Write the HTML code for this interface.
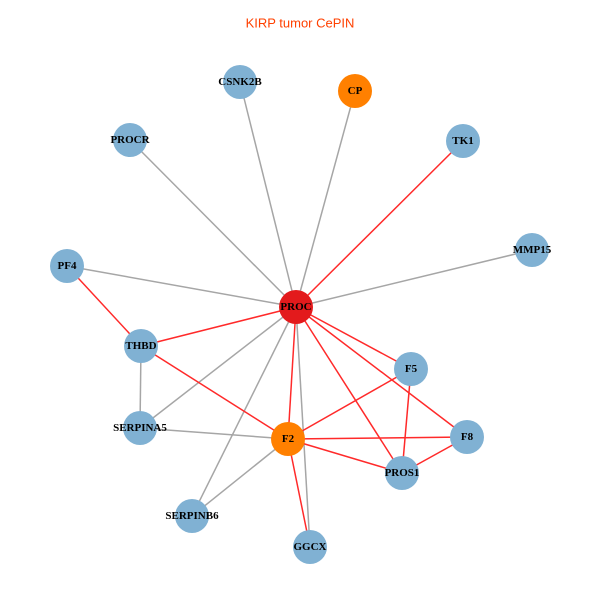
<!DOCTYPE html>
<html><head><meta charset="utf-8"><style>
html,body{margin:0;padding:0;background:#fff;}
svg{display:block}
text{font-family:"Liberation Serif",serif;font-weight:bold;font-size:11px;text-anchor:middle;dominant-baseline:central;fill:#000}
</style></head><body>
<svg width="600" height="600" viewBox="0 0 600 600" xmlns="http://www.w3.org/2000/svg">
<rect width="600" height="600" fill="#fff"/>
<text x="300" y="23" style="font-family:'Liberation Sans',sans-serif;font-weight:normal;font-size:13px;fill:#ff4000">KIRP tumor CePIN</text>
<g stroke="#a6a6a6" stroke-width="1.5">
<line x1="296" y1="307" x2="240" y2="82"/>
<line x1="296" y1="307" x2="355" y2="91"/>
<line x1="296" y1="307" x2="130" y2="140"/>
<line x1="296" y1="307" x2="532" y2="250"/>
<line x1="296" y1="307" x2="67" y2="266"/>
<line x1="296" y1="307" x2="140" y2="428"/>
<line x1="296" y1="307" x2="192" y2="516"/>
<line x1="296" y1="307" x2="310" y2="547"/>
<line x1="141" y1="346" x2="140" y2="428"/>
<line x1="140" y1="428" x2="288" y2="439"/>
<line x1="288" y1="439" x2="192" y2="516"/>
</g>
<g stroke="#ff2a2a" stroke-width="1.5">
<line x1="296" y1="307" x2="463" y2="141"/>
<line x1="67" y1="266" x2="141" y2="346"/>
<line x1="296" y1="307" x2="141" y2="346"/>
<line x1="141" y1="346" x2="288" y2="439"/>
<line x1="296" y1="307" x2="288" y2="439"/>
<line x1="296" y1="307" x2="411" y2="369"/>
<line x1="296" y1="307" x2="467" y2="437"/>
<line x1="296" y1="307" x2="402" y2="473"/>
<line x1="288" y1="439" x2="411" y2="369"/>
<line x1="288" y1="439" x2="467" y2="437"/>
<line x1="288" y1="439" x2="402" y2="473"/>
<line x1="288" y1="439" x2="310" y2="547"/>
<line x1="411" y1="369" x2="402" y2="473"/>
<line x1="402" y1="473" x2="467" y2="437"/>
</g>
<g fill="#80b1d3">
<circle cx="240" cy="82" r="17"/>
<circle cx="130" cy="140" r="17"/>
<circle cx="463" cy="141" r="17"/>
<circle cx="532" cy="250" r="17"/>
<circle cx="67" cy="266" r="17"/>
<circle cx="141" cy="346" r="17"/>
<circle cx="411" cy="369" r="17"/>
<circle cx="140" cy="428" r="17"/>
<circle cx="467" cy="437" r="17"/>
<circle cx="402" cy="473" r="17"/>
<circle cx="192" cy="516" r="17"/>
<circle cx="310" cy="547" r="17"/>
</g>
<circle cx="355" cy="91" r="17" fill="#ff8000"/>
<circle cx="288" cy="439" r="17" fill="#ff8000"/>
<circle cx="296" cy="307" r="17" fill="#e31a1c"/>
<text x="240" y="82">CSNK2B</text>
<text x="355" y="91">CP</text>
<text x="130" y="140">PROCR</text>
<text x="463" y="141">TK1</text>
<text x="532" y="250">MMP15</text>
<text x="67" y="266">PF4</text>
<text x="296" y="307">PROC</text>
<text x="141" y="346">THBD</text>
<text x="411" y="369">F5</text>
<text x="140" y="428">SERPINA5</text>
<text x="288" y="439">F2</text>
<text x="467" y="437">F8</text>
<text x="402" y="473">PROS1</text>
<text x="192" y="516">SERPINB6</text>
<text x="310" y="547">GGCX</text>
</svg>
</body></html>
